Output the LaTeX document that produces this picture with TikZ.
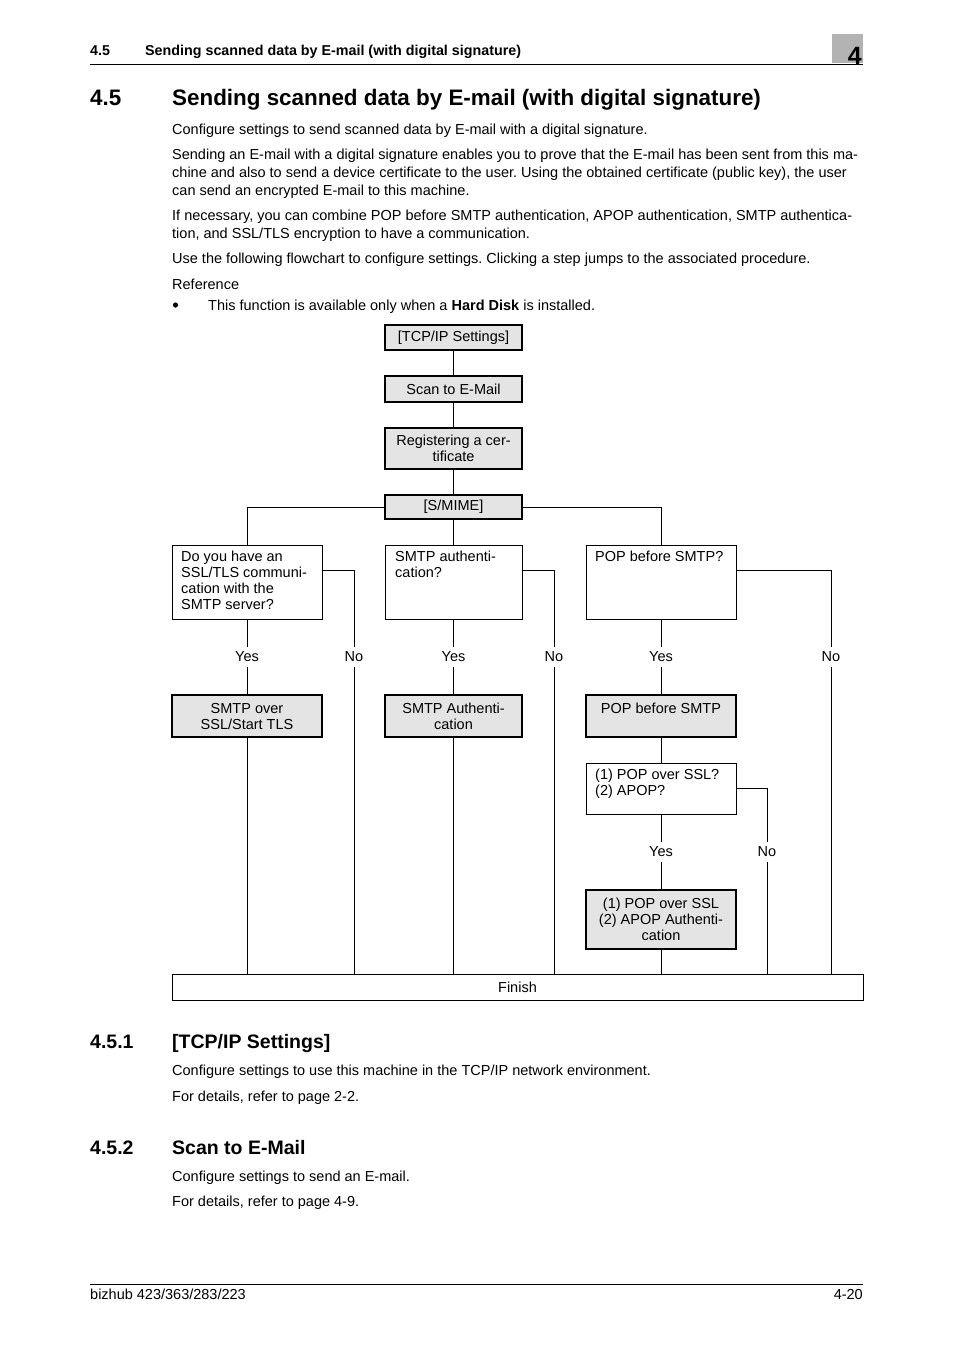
\documentclass[tikz,border=0pt]{standalone}
\usepackage{fontspec}
\setmainfont{Liberation Sans}
\definecolor{boxgray}{HTML}{E4E4E4}
\definecolor{tabgray}{HTML}{B3B3B3}
\newcommand{\bodyfont}{\fontsize{14.5}{18}\selectfont}
\newcommand{\boxfont}{\fontsize{14.5}{16}\selectfont}
\frenchspacing
\begin{document}
\begin{tikzpicture}[x=1pt,y=-1pt,
  txt/.style={inner sep=0pt, anchor=base west, font=\bodyfont},
  act/.style={draw, line width=1.6pt, fill=boxgray, inner sep=0pt, align=center, font=\boxfont},
  ques/.style={draw, line width=0.8pt, fill=white, inner sep=0pt},
  qtext/.style={inner sep=0pt, anchor=north west, align=left, font=\boxfont},
  conn/.style={line width=0.8pt},
  lab/.style={inner sep=0pt, minimum height=19pt, font=\boxfont}]
\useasboundingbox[fill=white] (0,0) rectangle (954,1350);

% header
\node[txt, font=\fontsize{14.3}{16}\selectfont\bfseries] (hnum) at (90,55) {4.5};
\node[txt, font=\fontsize{14.3}{16}\selectfont\bfseries] (htitle) at (145,55) {Sending scanned data by E-mail (with digital signature)};
\fill[tabgray] (832,34) rectangle (863,63);
\node[inner sep=0pt, anchor=base east, font=\fontsize{25}{28}\selectfont\bfseries] (tab) at (862,64) {4};
\draw[line width=0.9pt] (90,64.5) -- (863,64.5);

% title
\node[txt, font=\fontsize{22.4}{25}\selectfont\bfseries] (tnum) at (90,105) {4.5};
\node[txt, font=\fontsize{22.4}{25}\selectfont\bfseries] (ttitle) at (172,105) {Sending scanned data by E-mail (with digital signature)};

% body
\node[txt] (p1) at (172,134) {Configure settings to send scanned data by E-mail with a digital signature.};
\node[txt] (p2a) at (172,159) {Sending an E-mail with a digital signature enables you to prove that the E-mail has been sent from this ma-};
\node[txt] (p2b) at (172,177) {chine and also to send a device certificate to the user. Using the obtained certificate (public key), the user};
\node[txt] (p2c) at (172,195) {can send an encrypted E-mail to this machine.};
\node[txt] (p3a) at (172,220) {If necessary, you can combine POP before SMTP authentication, APOP authentication, SMTP authentica-};
\node[txt] (p3b) at (172,238) {tion, and SSL/TLS encryption to have a communication.};
\node[txt] (p4) at (172,263) {Use the following flowchart to configure settings. Clicking a step jumps to the associated procedure.};
\node[txt] (p5) at (172,289) {Reference};
\fill (175.5,305) circle (2.6);
\node[txt] (p6) at (208,310) {This function is available only when a \textbf{Hard Disk} is installed.};

% flowchart boxes
\node[act, minimum width=137, minimum height=25] (tcp) at (453.5,337.5) {[TCP/IP Settings]};
\node[act, minimum width=137, minimum height=26] (scan) at (453.5,389) {Scan to E-Mail};
\node[act, minimum width=137, minimum height=41] (reg) at (453.5,448.5) {Registering a cer-\\tificate};
\node[act, minimum width=137, minimum height=24] (smime) at (453.5,507) {[S/MIME]};

\node[ques, minimum width=150, minimum height=74] (q1) at (247,582) {};
\node[ques, minimum width=137, minimum height=74] (q2) at (453.5,582) {};
\node[ques, minimum width=150, minimum height=74] (q3) at (661,582) {};
\node[qtext] (q1t) at (181,551) {Do you have an\\SSL/TLS communi-\\cation with the\\SMTP server?};
\node[qtext] (q2t) at (395,551) {SMTP authenti-\\cation?};
\node[qtext] (q3t) at (595,551) {POP before SMTP?};

\node[act, minimum width=150, minimum height=42] (a1) at (247,716) {SMTP over\\SSL/Start TLS};
\node[act, minimum width=137, minimum height=42] (a2) at (453.5,716) {SMTP Authenti-\\cation};
\node[act, minimum width=150, minimum height=42] (a3) at (661,716) {POP before SMTP\\\mbox{}};

\node[ques, minimum width=150, minimum height=51] (q4) at (661,788.5) {};
\node[qtext] (q4t) at (595,769) {(1) POP over SSL?\\(2) APOP?};

\node[act, minimum width=150, minimum height=59] (a5) at (661,919.5) {(1) POP over SSL\\(2) APOP Authenti-\\cation};

\node[ques, minimum width=691, minimum height=26, font=\boxfont] (fin) at (517.5,987) {Finish};

% labels
\node[lab] (y1) at (247,657) {Yes};
\node[lab] (y2) at (453.5,657) {Yes};
\node[lab] (y3) at (661,657) {Yes};
\node[lab] (n1) at (354,657) {No};
\node[lab] (n2) at (554,657) {No};
\node[lab] (n3) at (831,657) {No};
\node[lab] (y4) at (661,852) {Yes};
\node[lab] (n4) at (767,852) {No};

% connectors
\draw[conn] (tcp) -- (scan);
\draw[conn] (scan) -- (reg);
\draw[conn] (reg) -- (smime);
\draw[conn] (smime.west) -| (q1.north);
\draw[conn] (smime) -- (q2);
\draw[conn] (smime.east) -| (q3.north);

\draw[conn] (q1) -- (y1);
\draw[conn] (y1) -- (a1);
\draw[conn] (q2) -- (y2);
\draw[conn] (y2) -- (a2);
\draw[conn] (q3) -- (y3);
\draw[conn] (y3) -- (a3);

\draw[conn] ([yshift=12pt]q1.east) -| (n1.north);
\draw[conn] ([yshift=12pt]q2.east) -| (n2.north);
\draw[conn] ([yshift=12pt]q3.east) -| (n3.north);

\draw[conn] (a3) -- (q4);
\draw[conn] (q4) -- (y4);
\draw[conn] (y4) -- (a5);
\draw[conn] (q4.east) -| (n4.north);

\draw[conn] (a1.south) -- (a1.south |- fin.north);
\draw[conn] (a2.south) -- (a2.south |- fin.north);
\draw[conn] (a5.south) -- (a5.south |- fin.north);
\draw[conn] (n1.south) -- (n1.south |- fin.north);
\draw[conn] (n2.south) -- (n2.south |- fin.north);
\draw[conn] (n3.south) -- (n3.south |- fin.north);
\draw[conn] (n4.south) -- (n4.south |- fin.north);

% sections
\node[txt, font=\fontsize{19.5}{22}\selectfont\bfseries] (s1n) at (90,1048) {4.5.1};
\node[txt, font=\fontsize{19.5}{22}\selectfont\bfseries] (s1t) at (172,1048) {[TCP/IP Settings]};
\node[txt] (s1a) at (172,1075) {Configure settings to use this machine in the TCP/IP network environment.};
\node[txt] (s1b) at (172,1101) {For details, refer to page 2-2.};
\node[txt, font=\fontsize{19.5}{22}\selectfont\bfseries] (s2n) at (90,1154) {4.5.2};
\node[txt, font=\fontsize{19.5}{22}\selectfont\bfseries] (s2t) at (172,1154) {Scan to E-Mail};
\node[txt] (s2a) at (172,1181) {Configure settings to send an E-mail.};
\node[txt] (s2b) at (172,1206) {For details, refer to page 4-9.};

% footer
\draw[line width=0.9pt] (90,1284) -- (863,1284);
\node[txt] (f1) at (90,1299) {bizhub 423/363/283/223};
\node[inner sep=0pt, anchor=base east, font=\bodyfont] (f2) at (863,1299) {4-20};
\end{tikzpicture}
\end{document}
